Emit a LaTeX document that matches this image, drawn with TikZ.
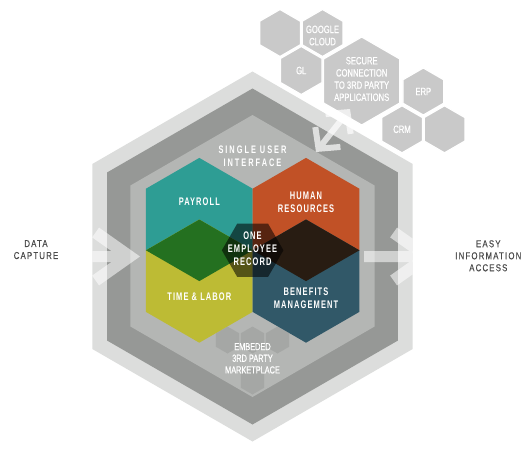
\documentclass[tikz,border=0pt]{standalone}
\usepackage{fontspec}
\setmainfont{Liberation Sans}
\newfontfamily\hexfont{Liberation Sans}[FakeStretch=0.68,LetterSpace=10]
\newfontfamily\narrowfont{Liberation Sans}[FakeStretch=0.72,FakeBold=0.6]
\newfontfamily\sidefont{Liberation Sans}[FakeStretch=0.78,LetterSpace=12,FakeBold=0.4]
\usetikzlibrary{shapes.geometric,arrows.meta,calc}

\definecolor{ringouter}{RGB}{220,221,220}
\definecolor{ringmid}{RGB}{150,152,150}
\definecolor{ringinner}{RGB}{180,182,180}
\definecolor{payrollteal}{RGB}{46,157,148}
\definecolor{hrorange}{RGB}{193,81,38}
\definecolor{timeolive}{RGB}{189,187,52}
\definecolor{benefitsblue}{RGB}{49,88,104}
\definecolor{mixgreen}{RGB}{36,112,32}
\definecolor{mixdark}{RGB}{40,28,18}
\definecolor{appgray}{RGB}{201,201,201}
\definecolor{sidetext}{RGB}{75,75,75}

\begin{document}
\begin{tikzpicture}
		[x=1pt, y=-1pt,
		hex/.style={regular polygon, regular polygon sides=6, shape border rotate=30,
			inner sep=0pt, outer sep=0pt, minimum size=#1},
		flathex/.style={regular polygon, regular polygon sides=6,
			inner sep=0pt, outer sep=0pt, minimum size=#1},
		apphex/.style={hex=#1, fill=appgray, draw=white, line width=1.2pt},
		markethex/.style={hex=27pt, fill=black, fill opacity=.08},
		modlabel/.style={text=white, align=center, inner sep=0pt,
			font=\hexfont\bfseries\fontsize{11}{12.8}\selectfont},
		uilabel/.style={modlabel,
			font=\hexfont\bfseries\addfontfeature{LetterSpace=18}\fontsize{10.9}{12.7}\selectfont},
		applabel/.style={text=white, align=center, inner sep=0pt,
			font=\narrowfont\fontsize{10.6}{12.2}\selectfont},
		sidelabel/.style={text=sidetext, align=center, inner sep=0pt,
			font=\sidefont\fontsize{10}{12}\selectfont},
		flowarrow/.style={white, line width=11pt,
			-{Straight Barb[length=34pt, width=48pt, line width=12pt]}},
		syncarrow/.style={white, line width=6pt,
			{Straight Barb[length=15pt, width=32pt]}-{Straight Barb[length=15pt, width=32pt]}},
		]

		\useasboundingbox (0,0) rectangle (528,452);

		% rings
		\node[hex=370pt, fill=ringouter] (outer) at (252.5,256.5) {};
		\node[hex=336pt, fill=ringmid] (mid) at (252.5,256.5) {};
		\node[hex=282pt, fill=ringinner] (inner) at (252.5,256) {};

		% marketplace
		\node[markethex] (mk1) at (227.5,340) {};
		\node[markethex] (mk2) at (252.5,340) {};
		\node[markethex] (mk3) at (277.5,340) {};
		\node[markethex] (mk4) at (252.5,381) {};

		% modules
		\node[hex=123.2pt, fill=payrollteal] (payroll) at (199.3,219.5) {};
		\node[hex=123.2pt, fill=hrorange] (hr) at (306,219.5) {};
		\node[hex=123.2pt, fill=timeolive] (time) at (199.3,281.1) {};
		\node[hex=123.2pt, fill=benefitsblue] (benefits) at (306,281.1) {};

		\coordinate (left-mid) at ($(payroll.center)!.5!(time.center)$);
		\coordinate (right-mid) at ($(hr.center)!.5!(benefits.center)$);
		\fill[mixgreen] (payroll.center) -- (left-mid -| payroll.east) -- (time.center)
			-- (left-mid -| payroll.west) -- cycle;
		\fill[mixdark] (hr.center) -- (right-mid -| hr.east) -- (benefits.center)
			-- (right-mid -| hr.west) -- cycle;

		\node[flathex=61.6pt, fill=black, fill opacity=.55] (record)
			at ($(left-mid)!.5!(right-mid)$) {};

		% apps
		\node[apphex=47pt] (blank1) at (280,33) {};
		\node[apphex=47pt] (google) at (322.5,33) {};
		\node[apphex=48pt] (gl) at (301.25,70.5) {};
		\node[apphex=88pt] (secure) at (361.7,81) {};
		\node[apphex=47pt] (erp) at (423.3,91.5) {};
		\node[apphex=47pt] (crm) at (402,129.3) {};
		\node[apphex=47pt] (blank2) at (444.5,129.3) {};

		% labels
		\node[uilabel] (ui) at (252.5,156.3) {SINGLE USER\\INTERFACE};
		\node[modlabel] (payroll-text) at (199.3,201.7) {PAYROLL};
		\node[modlabel] (hr-text) at (306,202.5) {HUMAN\\RESOURCES};
		\node[modlabel] (record-text) at (252.5,249) {ONE\\EMPLOYEE\\RECORD};
		\node[modlabel] (time-text) at (199.3,296.7) {TIME \& LABOR};
		\node[modlabel] (benefits-text) at (306,298) {BENEFITS\\MANAGEMENT};
		\node[applabel, font=\narrowfont\fontsize{10.2}{11.7}\selectfont] (market-text)
			at (252.5,358.3) {EMBEDED\\3RD PARTY\\MARKETPLACE};

		\node[applabel] (google-text) at ([yshift=-2.5pt]google.center) {GOOGLE\\CLOUD};
		\node[applabel] (gl-text) at (gl) {GL};
		\node[applabel] (secure-text) at ([yshift=2pt]secure.center) {SECURE\\CONNECTION\\TO 3RD PARTY\\APPLICATIONS};
		\node[applabel] (erp-text) at (erp) {ERP};
		\node[applabel] (crm-text) at (crm) {CRM};

		\node[sidelabel] (capture) at (36,249.6) {DATA\\CAPTURE};
		\node[sidelabel] (access) at (488.3,255.8) {EASY\\INFORMATION\\ACCESS};

		% arrows
		\coordinate (capture-tip) at (140,256.5);
		\coordinate (access-start) at (364,256.5);
		\coordinate (access-tip) at (438,256.5);
		\coordinate (sync-in) at (316,152);
		\coordinate (sync-out) at (350,109);

		\begin{scope}[transparency group, opacity=.55]
			\clip (outer.corner 1) -- (outer.corner 2) -- (outer.corner 3)
				-- (outer.corner 4) -- (outer.corner 5) -- (outer.corner 6) -- cycle;
			\draw[flowarrow] (outer.west) -- (capture-tip);
			\draw[flowarrow] (access-start) -- (access-tip);
		\end{scope}
		\begin{scope}[transparency group, opacity=.7]
			\draw[syncarrow] (sync-in) -- (sync-out);
		\end{scope}
	\end{tikzpicture}
\end{document}
